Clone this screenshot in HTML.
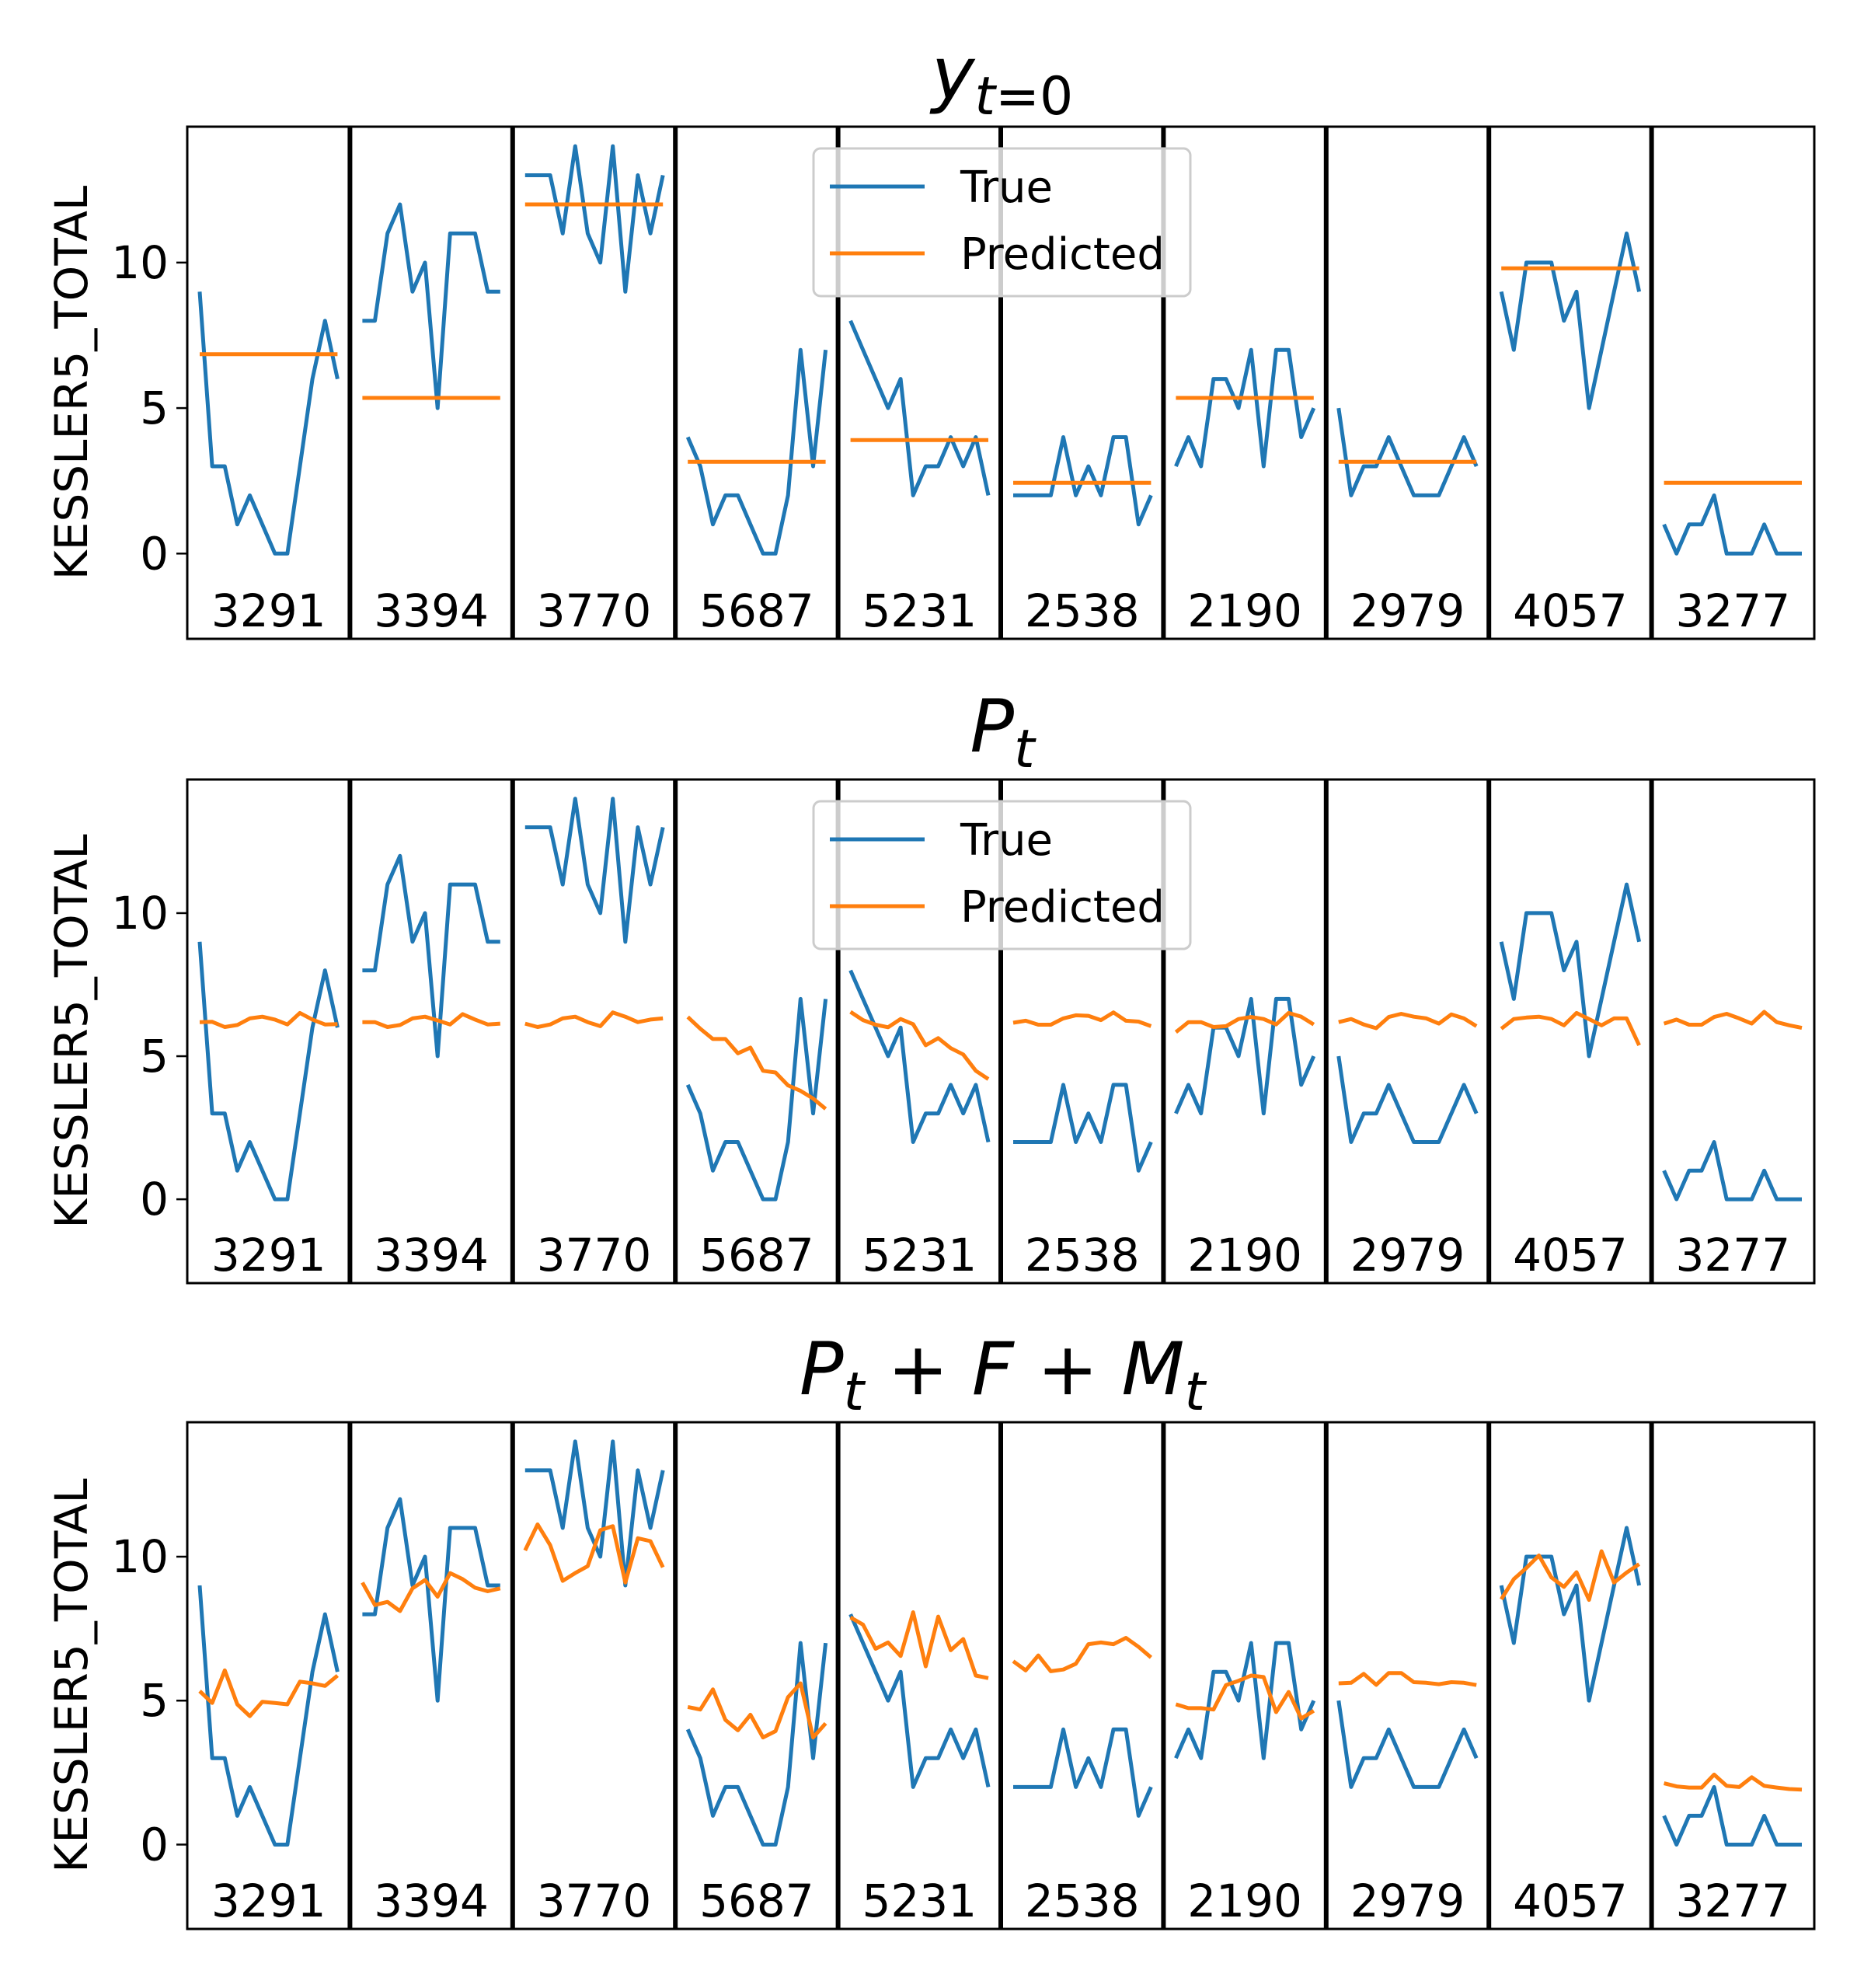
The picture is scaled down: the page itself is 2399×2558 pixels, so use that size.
<!DOCTYPE html>
<html><head><meta charset="utf-8">
<style>
html,body{margin:0;padding:0;background:#fff;}
svg{display:block;font-family:"DejaVu Sans","Liberation Sans",sans-serif;}
</style></head>
<body>
<svg id="chart" width="2399" height="2558" viewBox="0 0 2399 2558" xmlns="http://www.w3.org/2000/svg">
<rect width="2399" height="2558" fill="#fff"/>
</svg>
<script>
const ids = ["3291","3394","3770","5687","5231","2538","2190","2979","4057","3277"];
const trueVals = [
 [9,3,3,1,2,1,0,0,3,6,8,6],
 [8,8,11,12,9,10,5,11,11,11,9,9],
 [13,13,13,11,14,11,10,14,9,13,11,13],
 [4,3,1,2,2,1,0,0,2,7,3,7],
 [8,7,6,5,6,2,3,3,4,3,4,2],
 [2,2,2,2,4,2,3,2,4,4,1,2],
 [3,4,3,6,6,5,7,3,7,7,4,5],
 [5,2,3,3,4,3,2,2,2,3,4,3],
 [9,7,10,10,10,8,9,5,7,9,11,9],
 [1,0,1,1,2,0,0,0,1,0,0,0]
];
const predConst = [6.85,5.35,12.0,3.15,3.9,2.43,5.35,3.15,9.8,2.43];
const predP = [
 [6.19,6.2,6.02,6.09,6.32,6.38,6.28,6.11,6.51,6.28,6.11,6.12],
 [6.19,6.19,6.02,6.09,6.32,6.38,6.25,6.11,6.47,6.28,6.11,6.14],
 [6.14,6.02,6.11,6.32,6.38,6.19,6.05,6.53,6.38,6.19,6.28,6.32],
 [6.37,5.96,5.6,5.6,5.1,5.3,4.49,4.43,3.98,3.79,3.52,3.16],
 [6.55,6.26,6.1,6.01,6.3,6.12,5.38,5.63,5.28,5.06,4.49,4.2],
 [6.17,6.24,6.1,6.1,6.32,6.43,6.41,6.26,6.53,6.24,6.21,6.05],
 [5.84,6.19,6.19,6.02,6.05,6.3,6.37,6.3,6.11,6.51,6.38,6.11],
 [6.19,6.3,6.11,5.98,6.37,6.48,6.38,6.32,6.14,6.46,6.32,6.05],
 [5.96,6.3,6.35,6.38,6.3,6.08,6.51,6.3,6.08,6.32,6.32,5.38],
 [6.14,6.28,6.1,6.1,6.37,6.48,6.32,6.14,6.55,6.19,6.08,5.99]
];
const predPFM = [
 [5.33,4.92,6.05,4.87,4.46,4.96,4.92,4.87,5.66,5.6,5.51,5.87],
 [9.1,8.32,8.43,8.11,8.9,9.19,8.61,9.43,9.22,8.92,8.8,8.9],
 [10.22,11.12,10.4,9.16,9.43,9.67,10.92,11.06,9.1,10.64,10.54,9.63],
 [4.78,4.69,5.39,4.33,3.97,4.51,3.72,3.94,5.12,5.6,3.72,4.21],
 [7.89,7.64,6.8,7.02,6.55,8.07,6.19,7.92,6.75,7.14,5.87,5.78],
 [6.37,6.05,6.57,6.02,6.08,6.28,6.96,7.02,6.96,7.18,6.87,6.5],
 [4.87,4.74,4.74,4.69,5.54,5.69,5.87,5.82,4.6,5.3,4.38,4.65],
 [5.6,5.62,5.93,5.55,5.96,5.96,5.64,5.62,5.57,5.64,5.62,5.54],
 [8.52,9.22,9.61,10.04,9.28,8.95,9.46,8.5,10.19,9.1,9.45,9.74],
 [2.13,2.02,1.98,1.98,2.43,2.04,2.0,2.34,2.04,1.98,1.93,1.91]
];
const yTicks = [0,5,10];
const yMin = -2.93, yMax = 14.67;

const NS = "http://www.w3.org/2000/svg";
const svg = document.getElementById("chart");
function mk(tag, attrs, parent){ const e=document.createElementNS(NS,tag); for(const k in attrs) e.setAttribute(k,attrs[k]); (parent||svg).appendChild(e); return e; }

const L = 241, R = 2335, PW = (R-L)/10;
const rows = [
 {top:163, bot:822, kind:"const"},
 {top:1003, bot:1651, kind:"P"},
 {top:1830, bot:2482, kind:"PFM"}
];
const blue="#1f77b4", orange="#ff7f0e";

rows.forEach((row, ri) => {
  const g = mk("g", {});
  
  
  const yS = v => row.bot - (v - yMin) / (yMax - yMin) * (row.bot - row.top);
  const xS = (p, i, n) => L + p*PW + 16 + i * (PW - 32) / (n - 1);
  const cx = 1290;
  let t = mk("text", {x:cx, y:row.top-36, "text-anchor":"middle", "font-size":"94", "xml:space":"preserve"}, g);
  if (row.kind === "PFM") {
    t.innerHTML = '<tspan font-style="italic">P</tspan><tspan font-style="italic" font-size="68" dy="20">t</tspan><tspan dy="-20"> + </tspan><tspan font-style="italic">F</tspan><tspan> + </tspan><tspan font-style="italic">M</tspan><tspan font-style="italic" font-size="68" dy="20">t</tspan>';
  } else if (row.kind === "P") {
    t.innerHTML = '<tspan font-style="italic">P</tspan><tspan font-style="italic" font-size="68" dy="20">t</tspan>';
  } else {
    t.innerHTML = '<tspan font-style="italic">y</tspan><tspan font-size="68" dy="20"><tspan font-style="italic">t</tspan>=0</tspan>';
  }
  
  
  const ymid = (row.top + row.bot) / 2;
  const yl = mk("text", {x:0, y:0, transform:`translate(112 ${ymid}) rotate(-90)`, "text-anchor":"middle", "font-size":"58"}, g);
  yl.textContent = "KESSLER5_TOTAL";
  
  
  yTicks.forEach(v => {
    const y = yS(v);
    const tk = mk("line", {x1:227, x2:L, y1:y, y2:y, stroke:"#000", "stroke-width":"2.5"}, g);
    
    
    const tl = mk("text", {x:217, y:y+20, "text-anchor":"end", "font-size":"58"}, g);
    tl.textContent = String(v);
    
    
  });
  ids.forEach((id, p) => {
    const pl = L + p*PW;
    const n = trueVals[p].length;
    const tPts = trueVals[p].map((v,i) => xS(p,i,n).toFixed(1)+","+yS(v).toFixed(1)).join(" ");
    const tl = mk("polyline", {points:tPts, fill:"none", stroke:blue, "stroke-width":"5", "stroke-linejoin":"round"}, g);
    
    
    let pv;
    if (row.kind === "const") pv = new Array(n).fill(predConst[p]);
    else if (row.kind === "P") pv = predP[p];
    else pv = predPFM[p];
    const m = pv.length;
    const pPts = pv.map((v,i) => xS(p,i,m).toFixed(1)+","+yS(v).toFixed(1)).join(" ");
    const pl2 = mk("polyline", {points:pPts, fill:"none", stroke:orange, "stroke-width":"5", "stroke-linejoin":"round"}, g);
    
    
    const lab = mk("text", {x:pl + PW/2, y:row.bot - 16, "text-anchor":"middle", "font-size":"58"}, g);
    lab.textContent = id;
    
    
    const fr = mk("rect", {x:pl, y:row.top, width:PW, height:row.bot-row.top, fill:"none", stroke:"#000", "stroke-width":"3"}, g);
    
    
    if (p > 0) {
      const dv = mk("line", {x1:pl, x2:pl, y1:row.top, y2:row.bot, stroke:"#000", "stroke-width":"6"}, g);
      
      
    }
  });
  if (row.kind !== "PFM") {
    const ly = row.top + 28;
    const lg = mk("g", {}, g);
    
    
    mk("rect", {x:1047, y:ly, width:485, height:190, rx:9, fill:"#fff", "fill-opacity":"0.8", stroke:"#cccccc", "stroke-width":"3"}, lg);
    const e1 = mk("line", {x1:1068, x2:1190, y1:ly+49, y2:ly+49, stroke:blue, "stroke-width":"5"}, lg);
    
    
    const t1 = mk("text", {x:1236, y:ly+69, "font-size":"56"}, lg);
    t1.textContent = "True";
    
    
    const e2 = mk("line", {x1:1068, x2:1190, y1:ly+135, y2:ly+135, stroke:orange, "stroke-width":"5"}, lg);
    
    
    const t2 = mk("text", {x:1236, y:ly+155, "font-size":"56"}, lg);
    t2.textContent = "Predicted";
    
    
  }
});
</script>
</body></html>
